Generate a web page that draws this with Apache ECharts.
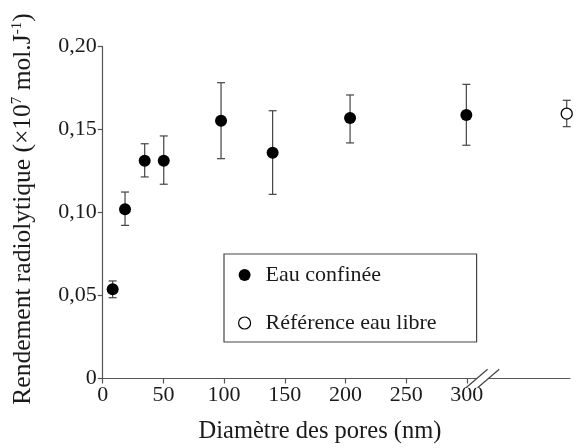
<!DOCTYPE html>
<html><head><meta charset="utf-8">
<script src="https://cdn.jsdelivr.net/npm/echarts@6/dist/echarts.min.js"></script>
<style>html,body{margin:0;padding:0;background:#fff}#c{width:576px;height:448px}</style>
</head><body><div id="c"></div><script>
// ---- data ----
const diameters       = [8.2, 18.4, 34.6, 50.3, 97.5, 140, 203.8, 299.6];
const yieldConfined   = [0.0538, 0.102, 0.1313, 0.1313, 0.1554, 0.1361, 0.157, 0.1588];
const errLowConfined  = [0.0487, 0.0923, 0.1215, 0.1171, 0.1325, 0.1110, 0.142, 0.1406];
const errHighConfined = [0.0588, 0.1124, 0.1415, 0.1462, 0.1783, 0.1614, 0.1709, 0.1773];
const refPosition     = [382.3];
const yieldRef        = [0.1596];
const errLowRef       = [0.1518];
const errHighRef      = [0.1677];
const xTickValues     = [0, 50, 100, 150, 200, 250, 300];
const yTickValues     = [0, 0.05, 0.10, 0.15, 0.20];
const yTickLabels     = ['0', '0,05', '0,10', '0,15', '0,20'];
const breakAt         = [313];
const seriesNames     = ['Eau confinée', 'Référence eau libre'];

const FONT = 'Liberation Serif';
const AXIS_COLOR = '#555';
const TEXT_COLOR = '#1a1a1a';

function errorBarRender(params, api) {
  const x = api.value(0);
  const lo = api.coord([x, api.value(1)]);
  const hi = api.coord([x, api.value(2)]);
  const hw = 4;
  const st = { stroke: '#444', lineWidth: 1.2 };
  return { type: 'group', children: [
    { type: 'line', shape: { x1: lo[0], y1: lo[1], x2: hi[0], y2: hi[1] }, style: st },
    { type: 'line', shape: { x1: lo[0] - hw, y1: lo[1], x2: lo[0] + hw, y2: lo[1] }, style: st },
    { type: 'line', shape: { x1: hi[0] - hw, y1: hi[1], x2: hi[0] + hw, y2: hi[1] }, style: st }
  ]};
}

function breakRender(params, api) {
  const c = api.coord([api.value(0), 0]);
  const sep = 5.8, dx = 10.8, dy = 9.2;
  const ax = c[0] - sep, bx = c[0] + sep, y = c[1];
  const st = { stroke: '#444', lineWidth: 1.2 };
  return { type: 'group', children: [
    { type: 'polygon', shape: { points: [[ax - dx, y + dy], [ax + dx, y - dy], [bx + dx, y - dy], [bx - dx, y + dy]] }, style: { fill: '#fff' } },
    { type: 'line', shape: { x1: ax - dx, y1: y + dy, x2: ax + dx, y2: y - dy }, style: st },
    { type: 'line', shape: { x1: bx - dx, y1: y + dy, x2: bx + dx, y2: y - dy }, style: st }
  ]};
}

const chart = echarts.init(document.getElementById('c'), null, { renderer: 'canvas' });
chart.setOption({
  backgroundColor: '#fff',
  animation: false,
  textStyle: { fontFamily: FONT },
  grid: { left: 102.7, right: 6, top: 46.7, bottom: 69.5, containLabel: false },
  xAxis: {
    type: 'value', min: 0, max: 385,
    axisLine: { lineStyle: { color: AXIS_COLOR, width: 1.2 } },
    axisTick: { show: true, length: 5, customValues: xTickValues, lineStyle: { color: AXIS_COLOR, width: 1.2 } },
    axisLabel: { customValues: xTickValues, fontFamily: FONT, fontSize: 22, color: TEXT_COLOR, margin: 6 },
    splitLine: { show: false }
  },
  yAxis: {
    type: 'value', min: 0, max: 0.2, interval: 0.05,
    axisLine: { show: true, lineStyle: { color: AXIS_COLOR, width: 1.2 } },
    axisTick: { show: true, length: 5, customValues: yTickValues, lineStyle: { color: AXIS_COLOR, width: 1.2 } },
    axisLabel: {
      customValues: yTickValues, fontFamily: FONT, fontSize: 22, color: TEXT_COLOR, margin: 6,
      formatter: function (v) { const i = yTickValues.findIndex(t => Math.abs(t - v) < 1e-9); return i >= 0 ? yTickLabels[i] : ''; }
    },
    splitLine: { show: false }
  },
  legend: {
    orient: 'vertical', left: 224, top: 254,
    padding: [10, 40, 8, 14], itemGap: 26,
    itemWidth: 32, itemHeight: 12,
    borderColor: '#444', borderWidth: 1.2,
    textStyle: { fontFamily: FONT, fontSize: 22, color: TEXT_COLOR, lineHeight: 22 },
    data: [
      { name: seriesNames[0], icon: 'circle', itemStyle: { color: '#000', borderWidth: 0 } },
      { name: seriesNames[1], icon: 'circle', itemStyle: { color: '#fff', borderColor: '#000', borderWidth: 1.2 } }
    ]
  },
  graphic: [
    { type: 'text', x: 23, y: 209, rotation: Math.PI / 2, z: 10,
      style: { text: 'Rendement radiolytique (×10{sup|7} mol.J{sup|-1})', fill: TEXT_COLOR, fontFamily: FONT, fontSize: 25.5,
        align: 'center', verticalAlign: 'middle',
        rich: { sup: { fontFamily: FONT, fontSize: 15, verticalAlign: 'top', lineHeight: 15, fill: TEXT_COLOR } } } },
    { type: 'text', x: 320, y: 432, z: 10,
      style: { text: 'Diamètre des pores (nm)', fill: TEXT_COLOR, fontFamily: FONT, fontSize: 24.5, align: 'center', verticalAlign: 'middle' } }
  ],
  series: [
    { name: 'errConfined', type: 'custom', renderItem: errorBarRender, encode: { x: 0, y: [1, 2] }, z: 2,
      data: diameters.map((d, i) => [d, errLowConfined[i], errHighConfined[i]]) },
    { name: 'errRef', type: 'custom', renderItem: errorBarRender, encode: { x: 0, y: [1, 2] }, z: 2,
      data: refPosition.map((d, i) => [d, errLowRef[i], errHighRef[i]]) },
    { name: seriesNames[0], type: 'scatter', symbol: 'circle', symbolSize: 12, z: 3,
      itemStyle: { color: '#000', opacity: 1 },
      data: diameters.map((d, i) => [d, yieldConfined[i]]) },
    { name: seriesNames[1], type: 'scatter', symbol: 'circle', symbolSize: 11, z: 3,
      itemStyle: { color: '#fff', borderColor: '#000', borderWidth: 1.3, opacity: 1 },
      data: refPosition.map((d, i) => [d, yieldRef[i]]) },
    { name: 'axisBreak', type: 'custom', renderItem: breakRender, clip: false, z: 4, silent: true,
      encode: { x: 0, y: 1 }, data: breakAt.map(b => [b, 0]) }
  ]
});
</script></body></html>
